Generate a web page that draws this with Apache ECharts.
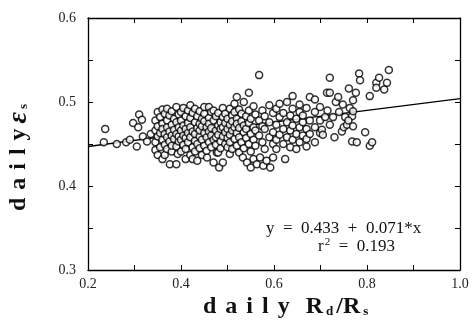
<!DOCTYPE html>
<html>
<head>
<meta charset="utf-8">
<script src="https://cdn.jsdelivr.net/npm/echarts@6/dist/echarts.min.js"></script>
<style>
  html, body { margin: 0; padding: 0; background: #fff; }
  #main { width: 473px; height: 328px; }
</style>
</head>
<body>
<div id="main"></div>
<script>
// daily Rd/Rs vs daily emissivity
var observed = [
  [0.237,0.468],[0.234,0.452],[0.262,0.450],[0.282,0.452],[0.305,0.447],[0.297,0.475],[0.310,0.485],
  [0.316,0.479],[0.308,0.470],[0.318,0.459],[0.327,0.453],[0.290,0.455],[0.335,0.462],
  [0.345,0.452],[0.345,0.443],[0.345,0.466],[0.345,0.478],
  [0.350,0.437],[0.350,0.459],[0.350,0.488],[0.350,0.471],
  [0.355,0.446],[0.355,0.482],[0.355,0.463],
  [0.360,0.432],[0.360,0.491],[0.360,0.455],[0.360,0.474],[0.360,0.468],
  [0.365,0.437],[0.365,0.486],[0.365,0.449],[0.365,0.462],
  [0.370,0.478],[0.370,0.458],[0.370,0.444],[0.370,0.492],[0.370,0.470],
  [0.376,0.426],[0.375,0.465],[0.375,0.453],[0.375,0.484],
  [0.380,0.441],[0.380,0.473],[0.380,0.489],[0.380,0.460],[0.380,0.448],
  [0.390,0.426],[0.385,0.456],[0.385,0.480],[0.385,0.467],
  [0.390,0.494],[0.390,0.447],[0.390,0.462],[0.390,0.476],[0.393,0.438],
  [0.395,0.470],[0.395,0.453],[0.395,0.485],[0.395,0.459],
  [0.400,0.441],[0.400,0.466],[0.400,0.488],[0.400,0.455],[0.400,0.478],
  [0.405,0.449],[0.405,0.472],[0.405,0.460],[0.405,0.493],
  [0.410,0.432],[0.410,0.457],[0.410,0.483],[0.410,0.468],[0.410,0.444],
  [0.415,0.475],[0.415,0.452],[0.415,0.490],[0.415,0.463],
  [0.420,0.496],[0.420,0.437],[0.420,0.470],[0.420,0.458],[0.420,0.481],
  [0.425,0.432],[0.425,0.446],[0.425,0.465],[0.425,0.487],
  [0.430,0.454],[0.430,0.476],[0.430,0.492],[0.430,0.462],[0.430,0.441],
  [0.435,0.430],[0.435,0.469],[0.435,0.483],[0.435,0.450],
  [0.440,0.459],[0.440,0.474],[0.440,0.445],[0.440,0.489],[0.440,0.466],
  [0.445,0.437],[0.445,0.480],[0.445,0.455],[0.445,0.471],
  [0.450,0.463],[0.450,0.486],[0.450,0.448],[0.450,0.477],[0.450,0.494],
  [0.456,0.434],[0.455,0.458],[0.455,0.470],[0.455,0.442],
  [0.460,0.494],[0.460,0.465],[0.460,0.452],[0.460,0.481],[0.460,0.474],
  [0.465,0.446],[0.465,0.488],[0.465,0.460],[0.465,0.469],
  [0.470,0.428],[0.470,0.455],[0.470,0.478],[0.477,0.440],[0.470,0.490],
  [0.475,0.466],[0.475,0.449],[0.475,0.483],[0.475,0.458],
  [0.482,0.422],[0.480,0.440],[0.480,0.472],[0.480,0.487],[0.480,0.461],
  [0.485,0.453],[0.485,0.476],[0.485,0.445],[0.485,0.468],
  [0.490,0.428],[0.490,0.482],[0.490,0.459],[0.490,0.493],[0.490,0.470],
  [0.495,0.450],[0.495,0.464],[0.495,0.486],[0.495,0.475],
  [0.505,0.438],[0.500,0.457],[0.500,0.480],[0.500,0.468],[0.500,0.446],
  [0.505,0.473],[0.505,0.492],[0.505,0.461],[0.505,0.452],
  [0.510,0.484],[0.510,0.444],[0.510,0.466],[0.510,0.477],
  [0.515,0.456],[0.515,0.498],[0.515,0.470],[0.515,0.488],
  [0.520,0.506],[0.520,0.448],[0.520,0.463],[0.520,0.480],[0.520,0.474],
  [0.525,0.458],[0.525,0.491],[0.525,0.469],[0.525,0.440],
  [0.533,0.434],[0.530,0.477],[0.530,0.452],[0.530,0.486],
  [0.535,0.464],[0.535,0.500],[0.535,0.445],[0.535,0.472],
  [0.542,0.428],[0.540,0.483],[0.540,0.457],[0.540,0.468],
  [0.546,0.511],[0.546,0.490],[0.546,0.450],[0.546,0.475],
  [0.550,0.422],[0.550,0.462],[0.550,0.441],[0.550,0.480],
  [0.556,0.432],[0.556,0.470],[0.556,0.495],[0.556,0.455],
  [0.563,0.426],[0.560,0.485],[0.560,0.448],[0.560,0.466],
  [0.568,0.532],[0.568,0.460],[0.568,0.478],[0.570,0.434],
  [0.577,0.424],[0.575,0.490],[0.575,0.452],[0.575,0.471],
  [0.584,0.430],[0.580,0.468],[0.580,0.444],[0.580,0.483],
  [0.592,0.422],[0.590,0.476],[0.590,0.458],[0.590,0.496],
  [0.598,0.434],[0.598,0.464],[0.598,0.487],[0.598,0.450],
  [0.605,0.473],[0.605,0.455],[0.605,0.492],[0.605,0.444],
  [0.612,0.482],[0.612,0.461],[0.612,0.498],
  [0.624,0.432],[0.620,0.468],[0.620,0.450],[0.620,0.487],
  [0.628,0.476],[0.628,0.458],[0.628,0.500],
  [0.635,0.446],[0.635,0.484],[0.635,0.466],
  [0.640,0.507],[0.640,0.472],[0.640,0.455],[0.640,0.492],
  [0.648,0.462],[0.648,0.480],[0.648,0.444],
  [0.655,0.488],[0.655,0.470],[0.655,0.452],[0.655,0.497],
  [0.662,0.476],[0.662,0.460],[0.662,0.484],
  [0.670,0.456],[0.670,0.493],[0.670,0.468],[0.670,0.447],
  [0.677,0.506],[0.677,0.478],[0.677,0.462],
  [0.688,0.503],[0.688,0.470],[0.688,0.452],[0.688,0.488],
  [0.699,0.494],[0.699,0.463],[0.699,0.478],
  [0.703,0.467],[0.705,0.461],[0.710,0.482],[0.714,0.511],[0.720,0.529],[0.720,0.511],
  [0.720,0.473],[0.727,0.482],[0.733,0.500],[0.738,0.506],[0.746,0.465],[0.748,0.497],
  [0.750,0.470],[0.753,0.482],[0.757,0.473],[0.761,0.516],[0.763,0.493],[0.768,0.483],
  [0.768,0.453],[0.770,0.502],[0.770,0.489],[0.770,0.471],[0.776,0.511],[0.778,0.452],
  [0.783,0.534],[0.785,0.526],[0.796,0.464],[0.806,0.507],[0.806,0.448],[0.811,0.452],
  [0.820,0.523],[0.820,0.517],[0.826,0.529],[0.837,0.515],[0.843,0.523],[0.847,0.538],
  [0.715,0.490],[0.740,0.488],[0.730,0.458],[0.760,0.478]
];

// fitted line, y = 0.433 + 0.071*x
var fitX = [0.2, 0.6, 0.8, 1.0];
var fitY = [0.447, 0.476, 0.490, 0.504];

var xTicks = ['0.2', '0.4', '0.6', '0.8', '1.0'];
var yTicks = ['0.3', '0.4', '0.5', '0.6'];

var fitLine = fitX.map(function (x, i) { return [x, fitY[i]]; });

var serif = '"Liberation Serif", "DejaVu Serif", serif';

function pick(list) {
  return function (v) {
    var s = v.toFixed(1);
    return list.indexOf(s) >= 0 && Math.abs(v * 10 - Math.round(v * 10)) < 1e-6 ? s : '';
  };
}

// spaced-out bold word, one rich token per letter
function spaced(word, style) {
  return word.split('').map(function (c) { return '{' + style + '|' + c + '}'; }).join('');
}

var frameLine = { show: true, lineStyle: { color: '#000', width: 1.3 } };
var tick = { show: true, inside: true, length: 5, lineStyle: { color: '#000', width: 1 } };

var bold = { fontFamily: serif, fontWeight: 'bold', fontSize: 24, fill: '#111' };
var titleRich = {
  b: bold,
  x: Object.assign({}, bold, { padding: [0, 9, 0, 0] }),
  v: Object.assign({}, bold, { padding: [0, 8, 0, 0] }),
  r: Object.assign({}, bold, { padding: [0, 0, 0, 16] }),
  e: { fontFamily: serif, fontWeight: 'bold', fontStyle: 'italic', fontSize: 28, fill: '#111', padding: [0, 0, 0, 5] },
  s: { fontFamily: serif, fontWeight: 'bold', fontSize: 13, fill: '#111', padding: [10, 3, 0, 3] }
};

var myChart = echarts.init(document.getElementById('main'));
myChart.setOption({
  animation: false,
  backgroundColor: '#fff',
  grid: { left: 88, right: 13, top: 18, bottom: 58 },
  xAxis: [{
    type: 'value', min: 0.2, max: 1.0, interval: 0.1,
    axisLine: frameLine, axisTick: tick, splitLine: { show: false },
    axisLabel: { formatter: pick(xTicks), color: '#222', fontFamily: serif, fontSize: 14, margin: 7 }
  }, {
    type: 'value', position: 'top', min: 0.2, max: 1.0, interval: 0.1,
    axisLine: frameLine, axisTick: tick, axisLabel: { show: false }, splitLine: { show: false }
  }],
  yAxis: [{
    type: 'value', min: 0.3, max: 0.6, interval: 0.05,
    axisLine: frameLine, axisTick: tick, splitLine: { show: false },
    axisLabel: { formatter: pick(yTicks), color: '#222', fontFamily: serif, fontSize: 14, margin: 12 }
  }, {
    type: 'value', position: 'right', min: 0.3, max: 0.6, interval: 0.05,
    axisLine: frameLine, axisTick: tick, axisLabel: { show: false }, splitLine: { show: false }
  }],
  series: [{
    type: 'line',
    data: fitLine,
    symbol: 'none',
    lineStyle: { color: '#000', width: 1.4 },
    z: 3
  }, {
    type: 'scatter',
    data: observed,
    symbol: 'circle',
    symbolSize: 7,
    itemStyle: { color: '#fff', borderColor: '#000', borderWidth: 1.5 },
    z: 4
  }],
  graphic: [{
    // y axis title
    type: 'text', x: 19, y: 156, rotation: Math.PI / 2,
    style: {
      text: spaced('dail', 'v') + '{b|y}{e|ε}{s|s}',
      rich: titleRich, align: 'center', verticalAlign: 'middle'
    }
  }, {
    // x axis title
    type: 'text', x: 203, y: 307,
    style: {
      text: spaced('dail', 'x') + '{b|y}{r|R}{s|d}{b|/R}{s|s}',
      rich: titleRich, align: 'left', verticalAlign: 'middle'
    }
  }, {
    type: 'text', left: 266, top: 220,
    style: { text: 'y  =  0.433  +  0.071*x', font: '17px ' + serif, fill: '#111' }
  }, {
    type: 'text', left: 318, top: 237,
    style: {
      text: '{t|r}{p|2}{t|  =  0.193}',
      rich: {
        t: { font: '17px ' + serif, fill: '#111' },
        p: { font: '11px ' + serif, fill: '#111', padding: [0, 0, 9, 1] }
      }
    }
  }]
});
</script>
</body>
</html>
